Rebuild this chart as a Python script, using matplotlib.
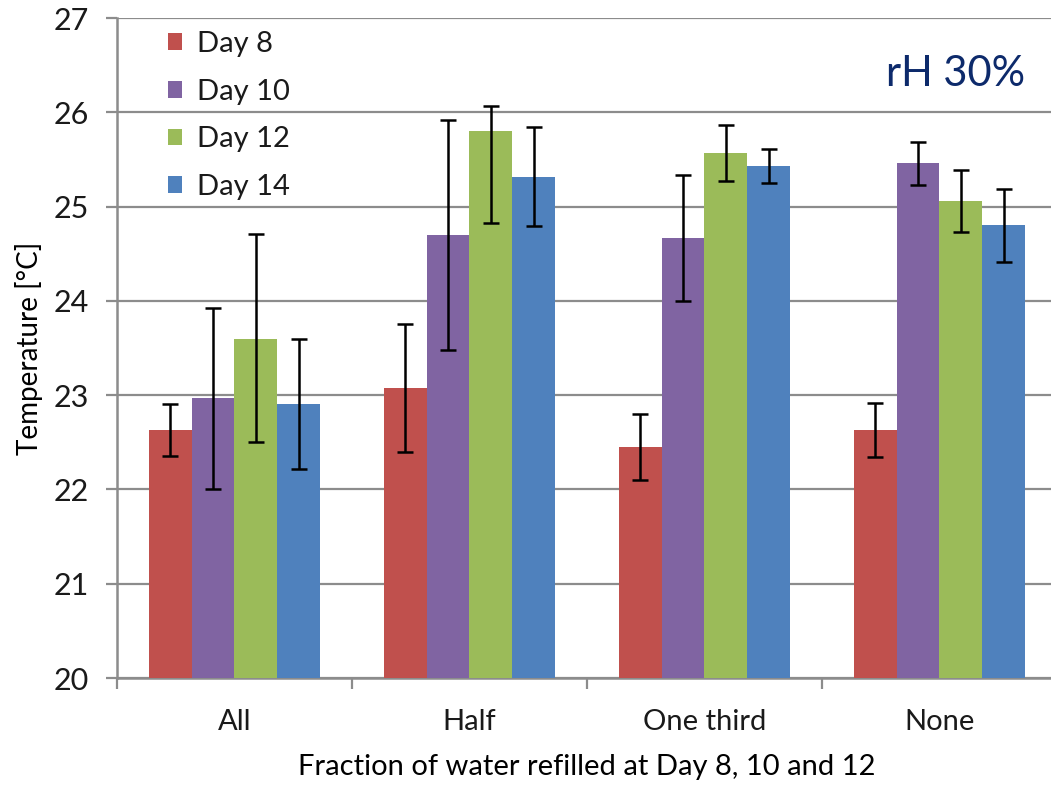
import numpy as np
import matplotlib.pyplot as plt

# temperature means and error bars per refill treatment
groups = ["All", "Half", "One third", "None"]
days = ["Day 8", "Day 10", "Day 12", "Day 14"]
temp = [
    [22.63, 23.08, 22.45, 22.63],   # Day 8
    [22.97, 24.70, 24.67, 25.46],   # Day 10
    [23.60, 25.80, 25.57, 25.06],   # Day 12
    [22.91, 25.31, 25.43, 24.80],   # Day 14
]
err_lo = [
    [0.28, 0.68, 0.35, 0.29],
    [0.96, 1.22, 0.67, 0.23],
    [1.10, 0.97, 0.30, 0.33],
    [0.69, 0.52, 0.18, 0.39],
]
err_hi = [
    [0.28, 0.68, 0.35, 0.29],
    [0.96, 1.22, 0.67, 0.23],
    [1.11, 0.27, 0.30, 0.33],
    [0.69, 0.53, 0.18, 0.39],
]
colors = ["#C0504D", "#8064A2", "#9BBB59", "#4F81BD"]

plt.rcParams['font.family'] = ['Lato', 'DejaVu Sans']
plt.rcParams['text.color'] = '#1a1a1a'

fig = plt.figure(figsize=(10.51, 7.86), dpi=100)
ax = fig.add_axes([0.1113, 0.1374, 0.8944, 0.8396])

x = np.arange(len(groups))
w = 0.182
for i in range(len(days)):
    pos = x + (i - 1.5) * w
    ax.bar(pos, np.array(temp[i]) - 20, bottom=20, width=w, color=colors[i],
           label=days[i], zorder=3)
    ax.errorbar(pos, temp[i], yerr=[err_lo[i], err_hi[i]], fmt='none',
                ecolor='black', elinewidth=1.8, capsize=5.5, capthick=1.8, zorder=4)

ax.set_xlim(-0.5, 3.5)
ax.set_ylim(20, 27)
ax.set_yticks(range(20, 28))
ax.yaxis.grid(True, color='#8c8c8c', linewidth=1.6, zorder=0)
ax.set_axisbelow(True)

ax.set_xticks(x)
ax.set_xticklabels(groups)
ax.set_xticks(np.arange(-0.5, 4.0, 1.0), minor=True)
ax.tick_params(axis='x', which='major', length=0, pad=22, labelsize=21, labelcolor='#1a1a1a')
ax.tick_params(axis='x', which='minor', length=8, width=1.6, color='#8c8c8c')
ax.tick_params(axis='y', length=8, width=1.6, color='#8c8c8c', labelsize=22, pad=12,
               labelcolor='#1a1a1a')

for s in ['top', 'right']:
    ax.spines[s].set_visible(False)
for s in ['left', 'bottom']:
    ax.spines[s].set_color('#8c8c8c')
    ax.spines[s].set_linewidth(1.8)

ax.set_xlabel("Fraction of water refilled at Day 8, 10 and 12", fontsize=21, labelpad=14)
ax.set_ylabel("Temperature [°C]", fontsize=20)
ax.yaxis.set_label_coords(-0.079, 0.5)

ax.legend(loc='upper left', bbox_to_anchor=(0.026, 1.02), frameon=False, fontsize=21,
          handlelength=0.5, handleheight=0.5, handletextpad=0.5, labelspacing=0.74)

ax.text(0.966, 0.915, "rH 30%", transform=ax.transAxes, ha='right', va='center',
        fontsize=30, color='#0D2A6B')

fig.savefig("out.png", dpi=100)
